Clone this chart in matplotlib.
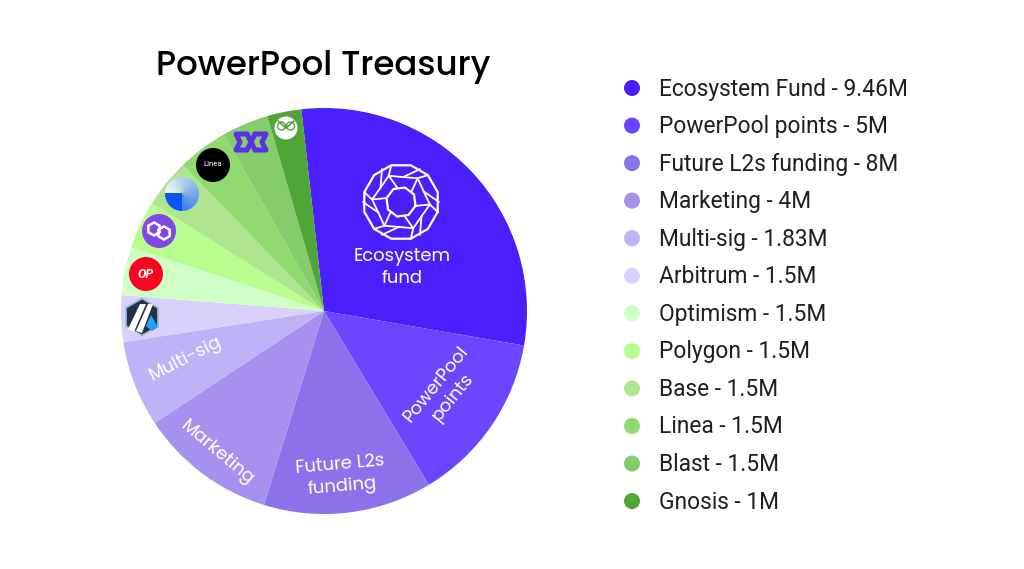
import matplotlib
matplotlib.use('Agg')
import matplotlib.pyplot as plt
import numpy as np
from matplotlib.patches import Circle, Polygon, RegularPolygon, Wedge

plt.rcParams['font.family'] = ['Roboto', 'DejaVu Sans']

# valeurs du camembert (en millions)
labels = ['Ecosystem Fund', 'PowerPool points', 'Future L2s funding', 'Marketing',
          'Multi-sig', 'Arbitrum', 'Optimism', 'Polygon', 'Base', 'Linea', 'Blast', 'Gnosis']
value_labels = ['9.46M', '5M', '8M', '4M', '1.83M', '1.5M', '1.5M', '1.5M', '1.5M', '1.5M', '1.5M', '1M']
# parts lues sur l'image en degrés (la figure n'est pas à l'échelle de la légende)
shares = [106.2, 49.1, 48.3, 39.3, 24.7, 13.3, 13.8, 13.8, 13.9, 14.4, 13.4, 9.8]
colors = ['#4a1ffb', '#6c45ff', '#8a72ea', '#a592ee', '#c0b2f6', '#d9d0fd',
          '#ceffc4', '#b7fe8e', '#afe58f', '#91da70', '#85cc6a', '#4fa535']

POPPINS = ['Poppins', 'Lato', 'DejaVu Sans']
W, H = 1024, 569


def Y(y):
    # coordonnées image vers axes (y vers le haut)
    return H - y


fig = plt.figure(figsize=(10.24, 5.69), dpi=100)
ax = fig.add_axes([0, 0, 1, 1])

cx, cy, r = 324, 311, 203
ax.pie(shares, colors=colors, startangle=96.4, counterclock=False,
       center=(cx, Y(cy)), radius=r, frame=False)
ax.set_xlim(0, W)
ax.set_ylim(0, H)
ax.set_aspect('equal')
ax.axis('off')

ax.text(323.5, Y(67), 'PowerPool Treasury', family=POPPINS, fontsize=24.5, weight='medium',
        ha='center', va='center', color='black')

# textes dans les parts
slice_texts = [('Ecosystem\nfund', 402, 268, 0), ('PowerPool\npoints', 445, 391, 51),
               ('Future L2s\nfunding', 341, 476, 5), ('Marketing', 217, 453, -40),
               ('Multi-sig', 186, 359, 27)]
for txt, x, y, rot in slice_texts:
    ax.text(x, Y(y), txt, color='white', fontsize=13, ha='center', va='center',
            family=POPPINS, rotation=rot, rotation_mode='anchor', linespacing=1.25,
            multialignment='center')


def line(xs, ys, color='white', lw=1.4, zorder=4):
    ax.plot(xs, [Y(v) for v in ys], color=color, lw=lw, solid_capstyle='round',
            solid_joinstyle='round', zorder=zorder)


def polar(rad, deg, x0=401, y0=202):
    t = np.radians(deg)
    return x0 + rad * np.cos(t), y0 + rad * np.sin(t)


# logo Ecosystem : anneau de losanges
outer = [polar(38, a + 15) for a in range(0, 360, 30)]
line([p[0] for p in outer + outer[:1]], [p[1] for p in outer + outer[:1]], lw=1.6)
inner = [polar(15, a + 15) for a in range(0, 360, 45)]
line([p[0] for p in inner + inner[:1]], [p[1] for p in inner + inner[:1]], lw=1.6)
middle = [polar(25 if k % 2 else 29, k * 30 + 5) for k in range(12)]
line([p[0] for p in middle + middle[:1]], [p[1] for p in middle + middle[:1]], lw=1.3)
for k in range(12):
    # rayons en moulinet
    if k % 2 == 0:
        p0, p1 = polar(15, k * 30 + 15), middle[k]
        line([p0[0], p1[0]], [p0[1], p1[1]], lw=1.3)
    p0, p1 = middle[k], polar(38, k * 30 + 15 + (15 if k % 2 else 0))
    line([p0[0], p1[0]], [p0[1], p1[1]], lw=1.3)

# logo Arbitrum
ax.add_patch(RegularPolygon((142, Y(317)), 6, radius=18.5, fc='#213147', ec='#96bedc', lw=1.3, zorder=3))
ax.add_patch(Polygon([(128, Y(329)), (140, Y(304)), (146, Y(304)), (134, Y(332))], fc='white', ec='none', zorder=4))
ax.add_patch(Polygon([(136, Y(331)), (148, Y(304)), (153, Y(304)), (142, Y(333))], fc='white', ec='none', zorder=4))
ax.add_patch(Polygon([(146, Y(326)), (151, Y(315)), (158, Y(327)), (152, Y(331))], fc='#28a0f0', ec='none', zorder=4))

# logo Optimism
ax.add_patch(Circle((146, Y(274)), 17, fc='#ff0420', ec='none', zorder=3))
ax.text(146, Y(274), 'OP', color='white', fontsize=9, weight='bold', style='italic',
        ha='center', va='center', zorder=4)

# logo Polygon
ax.add_patch(Circle((159, Y(231)), 17, fc='#8247e5', ec='none', zorder=3))
for dx, dy in [(-5, -2), (5, 2)]:
    ax.add_patch(RegularPolygon((159 + dx, Y(231 + dy)), 6, radius=6.5, fill=False, ec='white', lw=1.8, zorder=4))

# logo Base (dégradé par petits secteurs)
bx, by = 182, 194
for a in range(0, 270, 3):
    c = np.array([1.0, 1.0, 1.0]) * (1 - a / 270) + np.array([0.16, 0.42, 1.0]) * (a / 270)
    ax.add_patch(Wedge((bx, Y(by)), 17, 180 - a - 3.5, 180 - a, fc=c, ec='none', zorder=3))
ax.add_patch(Wedge((bx, Y(by)), 17, 180, 270, fc='#0b54f5', ec='none', zorder=3))
ax.add_patch(Polygon([(165, Y(193)), (182, Y(193)), (182, Y(195)), (165, Y(195))], fc='#0b54f5', ec='none', zorder=3))

# logo Linea
ax.add_patch(Circle((213, Y(165)), 17, fc='black', ec='none', zorder=3))
ax.text(213, Y(164), 'Linea', color='white', fontsize=5.5, ha='center', va='center', zorder=4)

# logo Blast
blast_x0, blast_y0 = 251, 142
blast_lines = [[(-4, -8), (-15, -8), (-11, 0), (-15, 8), (-4, 8)],
               [(4, -8), (15, -8), (11, 0), (15, 8), (4, 8)],
               [(-4, -8), (4, 8)], [(4, -8), (-4, 8)]]
for seg in blast_lines:
    line([blast_x0 + p[0] for p in seg], [blast_y0 + p[1] for p in seg], color='#5a32e6', lw=3.6)

# logo Gnosis
ax.add_patch(Circle((286, Y(128)), 11.5, fc='white', ec='none', zorder=3))
line([278, 286, 294], [121, 128, 121], color='#4fa535', lw=1.2)
ax.add_patch(Circle((281.5, Y(126)), 4, fill=False, ec='#4fa535', lw=1, zorder=4))
ax.add_patch(Circle((290.5, Y(126)), 4, fill=False, ec='#4fa535', lw=1, zorder=4))

# légende
leg_x, leg_text_x = 632, 659
leg_y0, leg_step = 88, 37.55
for i, (name, val) in enumerate(zip(labels, value_labels)):
    y = leg_y0 + i * leg_step
    ax.add_patch(Circle((leg_x, Y(y)), 8, fc=colors[i], ec='none'))
    ax.text(leg_text_x, Y(y + 1), f'{name} - {val}', fontsize=16.37, va='center', ha='left', color='#1f1f1f')

fig.savefig('out.png', dpi=100)
